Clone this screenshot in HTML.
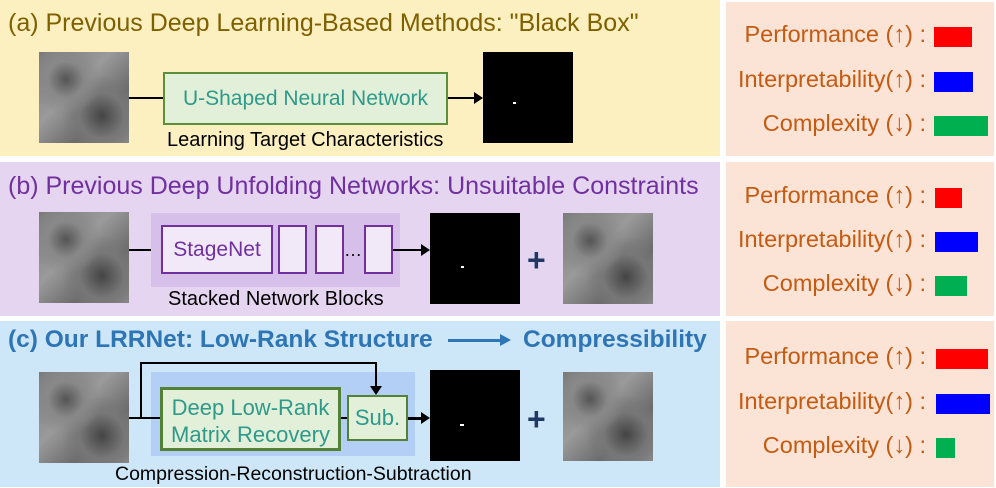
<!DOCTYPE html>
<html><head><meta charset="utf-8"><style>
body{margin:0;width:996px;height:488px;background:#fff;position:relative;overflow:hidden;font-family:"Liberation Sans",sans-serif}
div{position:absolute;box-sizing:border-box}
.t{white-space:nowrap}
.img{background:radial-gradient(circle at 30% 30%,#555 0,#888 20%,transparent 40%),radial-gradient(circle at 70% 70%,#444 0,#777 25%,transparent 45%),linear-gradient(135deg,#7a7a7a,#9a9a9a 40%,#6a6a6a 70%,#8d8d8d)}
.blk{background:#000}
.r{color:#c55a11;font-size:23.5px;text-align:right;width:260px;left:666px}
.bar{height:20px}
</style></head><body>
<div style="left:0;top:0;width:720px;height:156px;background:#fdf0c0"></div>
<div style="left:0;top:162px;width:720px;height:154px;background:#e6d5f0"></div>
<div style="left:0;top:321px;width:720px;height:166px;background:#cde7f8"></div>
<div style="left:726px;top:2px;width:268px;height:154px;background:#fbe3d6"></div>
<div style="left:726px;top:162px;width:268px;height:154px;background:#fbe3d6"></div>
<div style="left:726px;top:321px;width:268px;height:166px;background:#fbe3d6"></div>

<!-- a -->
<div class="t" style="left:8px;top:9px;font-size:25px;color:#7f6000">(a) Previous Deep Learning-Based Methods: "Black Box"</div>
<div class="img" style="left:39px;top:52px;width:90px;height:91px"></div>
<div style="left:129px;top:97px;width:34px;height:2px;background:#000"></div>
<div style="left:163px;top:72px;width:285px;height:53px;background:#e2efd9;border:2px solid #5a8f3c;color:#2e9a8a;font-size:21px;text-align:center;line-height:49px">U-Shaped Neural Network</div>
<div style="left:448px;top:97px;width:28px;height:2px;background:#000"></div>
<div style="left:474px;top:92px;border-left:9px solid #000;border-top:6px solid transparent;border-bottom:6px solid transparent"></div>
<div class="blk" style="left:483px;top:52px;width:90px;height:91px"></div>
<div style="left:513px;top:102px;width:3px;height:2px;background:#fff"></div>
<div class="t" style="left:167px;top:129px;font-size:20px;color:#000">Learning Target Characteristics</div>

<!-- b -->
<div class="t" style="left:8px;top:172px;font-size:25px;color:#7030a0">(b) Previous Deep Unfolding Networks: Unsuitable Constraints</div>
<div class="img" style="left:39px;top:212px;width:90px;height:91px"></div>
<div style="left:129px;top:249px;width:32px;height:2px;background:#000"></div>
<div style="left:151px;top:213px;width:249px;height:74px;background:#d6bfe8"></div>
<div style="left:161px;top:225px;width:112px;height:49px;background:#f1e8f8;border:2px solid #7030a0;color:#7030a0;font-size:21px;text-align:center;line-height:45px">StageNet</div>
<div style="left:278px;top:225px;width:29px;height:49px;background:#f1e8f8;border:2px solid #7030a0"></div>
<div style="left:315px;top:225px;width:29px;height:49px;background:#f1e8f8;border:2px solid #7030a0"></div>
<div class="t" style="left:344px;top:240px;font-size:18px">…</div>
<div style="left:364px;top:225px;width:29px;height:49px;background:#f1e8f8;border:2px solid #7030a0"></div>
<div style="left:393px;top:249px;width:30px;height:2px;background:#000"></div>
<div style="left:421px;top:244px;border-left:9px solid #000;border-top:6px solid transparent;border-bottom:6px solid transparent"></div>
<div class="blk" style="left:430px;top:213px;width:90px;height:91px"></div>
<div style="left:461px;top:266px;width:3px;height:2px;background:#fff"></div>
<div class="t" style="left:527px;top:242px;font-size:32px;font-weight:bold;color:#1f3864">+</div>
<div class="img" style="left:563px;top:213px;width:90px;height:91px"></div>
<div class="t" style="left:168px;top:288px;font-size:20px;color:#000">Stacked Network Blocks</div>

<!-- c -->
<div class="t" style="left:8px;top:326px;font-size:24.5px;font-weight:bold;color:#2e75b6">(c) Our LRRNet: Low-Rank Structure</div>
<div style="left:448px;top:339px;width:54px;height:3px;background:#2e75b6"></div>
<div style="left:500px;top:334px;border-left:11px solid #2e75b6;border-top:6px solid transparent;border-bottom:6px solid transparent"></div>
<div class="t" style="left:523px;top:326px;font-size:24.5px;font-weight:bold;color:#2e75b6">Compressibility</div>
<div class="img" style="left:39px;top:372px;width:90px;height:91px"></div>
<div style="left:151px;top:372px;width:264px;height:84px;background:#b4cff5"></div>
<div style="left:129px;top:417px;width:32px;height:2px;background:#000"></div>
<div style="left:140px;top:362px;width:2px;height:56px;background:#000"></div>
<div style="left:140px;top:362px;width:237px;height:2px;background:#000"></div>
<div style="left:375px;top:362px;width:2px;height:26px;background:#000"></div>
<div style="left:370px;top:386px;border-top:9px solid #000;border-left:6px solid transparent;border-right:6px solid transparent"></div>
<div style="left:160px;top:387px;width:181px;height:64px;background:#e2efd9;border:3px solid #538135;color:#2e9a8a;font-size:22px;text-align:center;line-height:27px;padding-top:4px">Deep Low-Rank<br>Matrix Recovery</div>
<div style="left:341px;top:417px;width:7px;height:2px;background:#000"></div>
<div style="left:347px;top:395px;width:61px;height:46px;background:#e2efd9;border:2px solid #538135;color:#2e9a8a;font-size:22px;text-align:center;line-height:42px">Sub.</div>
<div style="left:408px;top:417px;width:15px;height:3px;background:#000"></div>
<div style="left:421px;top:412px;border-left:9px solid #000;border-top:6px solid transparent;border-bottom:6px solid transparent"></div>
<div class="blk" style="left:430px;top:370px;width:90px;height:91px"></div>
<div style="left:460px;top:424px;width:4px;height:2px;background:#fff"></div>
<div class="t" style="left:527px;top:401px;font-size:32px;font-weight:bold;color:#1f3864">+</div>
<div class="img" style="left:563px;top:372px;width:90px;height:89px"></div>
<div class="t" style="left:115px;top:463px;font-size:19.5px;color:#000">Compression-Reconstruction-Subtraction</div>

<!-- right -->
<div class="t r" style="top:21px">Performance (↑) :</div>
<div class="bar" style="left:934px;top:27px;width:38px;background:#f00"></div>
<div class="t r" style="top:66px">Interpretability(↑) :</div>
<div class="bar" style="left:934px;top:72px;width:39px;background:#00f"></div>
<div class="t r" style="top:110px">Complexity (↓) :</div>
<div class="bar" style="left:934px;top:116px;width:54px;background:#00b050"></div>

<div class="t r" style="top:182px">Performance (↑) :</div>
<div class="bar" style="left:935px;top:188px;width:27px;background:#f00"></div>
<div class="t r" style="top:226px">Interpretability(↑) :</div>
<div class="bar" style="left:935px;top:232px;width:43px;background:#00f"></div>
<div class="t r" style="top:270px">Complexity (↓) :</div>
<div class="bar" style="left:935px;top:276px;width:32px;background:#00b050"></div>

<div class="t r" style="top:343px">Performance (↑) :</div>
<div class="bar" style="left:936px;top:349px;width:52px;background:#f00"></div>
<div class="t r" style="top:388px">Interpretability(↑) :</div>
<div class="bar" style="left:936px;top:394px;width:54px;background:#00f"></div>
<div class="t r" style="top:432px">Complexity (↓) :</div>
<div class="bar" style="left:936px;top:438px;width:19px;background:#00b050"></div>
</body></html>
